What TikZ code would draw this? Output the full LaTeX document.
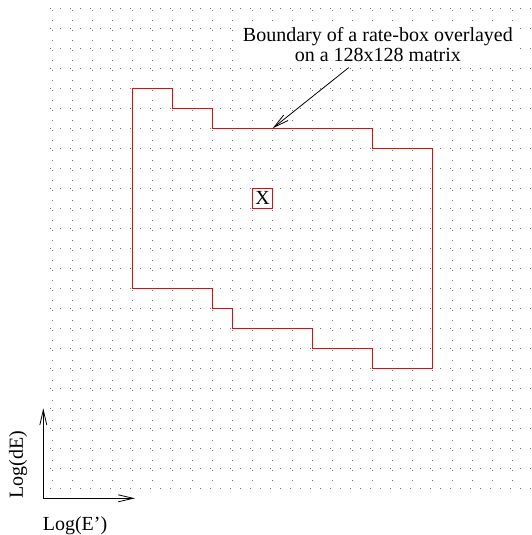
\documentclass[tikz,border=0pt]{standalone}
\usepackage{fontspec}
\setmainfont{Liberation Serif}
\usetikzlibrary{arrows.meta}

\begin{document}
\begin{tikzpicture}[
    x=20pt, y=-20pt,
    griddot/.style={line width=0.6pt, black!55, dash pattern=on 0.9pt off 9.1pt},
    boundary/.style={red, line width=1.1pt},
    myarrow/.style={-{Straight Barb[length=15pt,width=7pt]}, line width=0.8pt},
    mylabel/.style={font=\fontsize{20}{20}\selectfont, inner sep=0pt},
]
\useasboundingbox (-2.635,-0.415) rectangle (23.915,26.335);

% dotted 24x24 matrix
\foreach \k in {0,...,24}
    \draw[griddot, dash phase=8.3pt] (\k,0) -- (\k,24);
\foreach \j in {0,...,24}
    \draw[griddot] (-0.135,\j) -- (24,\j);

% rate-box boundary
\draw[boundary] (4,4) -| (6,5) -| (8,6) -| (16,7) -| (19,18) -| (16,17)
    -| (13,16) -| (9,15) -| (8,14) -- (4,14) -- cycle;
\node[mylabel, draw=red, line width=0.8pt, minimum size=20pt] (cell) at (10.5,9.5) {X};

% annotation
\node[mylabel, fill=white, inner sep=6pt, align=center] (note) at (16.26,1.8)
    {Boundary of a rate-box overlayed\\on a 128x128 matrix};
\coordinate (tip) at (11,6);
\draw[myarrow] (note) -- (tip);

% axes
\coordinate (origin) at (-0.47,24.5);
\coordinate (yaxis) at (-0.47,20);
\coordinate (xaxis) at (4.115,24.5);
\draw[myarrow] (origin) -- (yaxis);
\draw[myarrow] (origin) -- (xaxis);
\node[mylabel, rotate=90, anchor=base] (ylab) at (-1.485,22.82) {Log(dE)};
\node[mylabel, anchor=base] (xlab) at (1.115,26.085) {Log(E')};
\end{tikzpicture}
\end{document}
